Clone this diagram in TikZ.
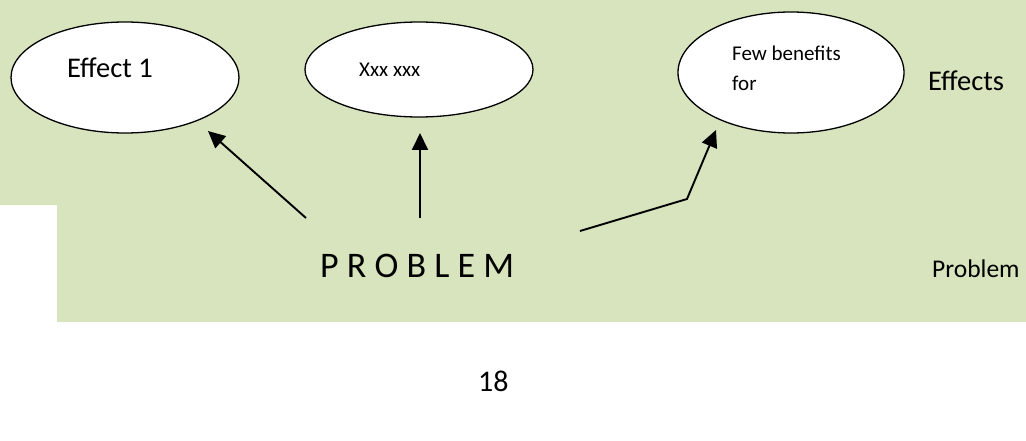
\documentclass[tikz,border=0pt]{standalone}
\usepackage{fontspec}
\setmainfont{Carlito}
\usetikzlibrary{shapes.geometric,arrows.meta}
\definecolor{panel}{HTML}{D7E4BD}
\begin{document}
\begin{tikzpicture}[x=1pt,y=-1pt,
  bubble/.style={ellipse,draw=black,line width=1.3pt,fill=white,inner sep=0pt},
  link/.style={line width=1.9pt,-{Triangle[length=17pt,width=16pt]}},
  lbl/.style={anchor=base west,inner sep=0pt,text=black}]
\useasboundingbox (0,0) rectangle (1026,441);
% green backdrop with the notch at the lower left
\fill[panel] (0,0) -- (1026,0) -- (1026,322) -- (57,322) -- (57,205) -- (0,205) -- cycle;

% effect bubbles
\node[bubble,minimum width=228pt,minimum height=111pt] (e1) at (125,77.5) {};
\node[bubble,minimum width=228pt,minimum height=95pt] (e2) at (419,69.5) {};
\node[bubble,minimum width=226pt,minimum height=121pt] (e3) at (791,72.5) {};

% texts
\node[lbl,font=\fontsize{28.5}{34}\selectfont] (t1) at (67,78) {Effect 1};
\node[lbl,font=\fontsize{21}{25}\selectfont] (t2) at (359,77) {Xxx xxx};
\node[lbl,font=\fontsize{21}{25}\selectfont] (t3a) at (732,61) {Few benefits};
\node[lbl,font=\fontsize{21}{25}\selectfont] (t3b) at (732,91) {for};
\node[lbl,font=\fontsize{28.5}{34}\selectfont] (effects) at (928,91) {Effects};
\node[lbl,font=\fontsize{36}{42}\selectfont] (problem) at (320,277) {P R O B L E M};
\node[lbl,font=\fontsize{25.5}{30}\selectfont] (problemlbl) at (932,277) {Problem};
\node[lbl,font=\fontsize{30}{36}\selectfont] (page) at (478,391) {18};

% connector ends
\coordinate (s1) at (306,218);
\coordinate (h1) at (208,131);
\coordinate (s2) at (420,218);
\coordinate (h2) at (420,133);
\coordinate (s3) at (580,231);
\coordinate (k3) at (687,199);
\coordinate (h3) at (716,130);

\draw[link] (s1) -- (h1);
\draw[link] (s2) -- (h2);
\draw[link] (s3) -- (k3) -- (h3);
\end{tikzpicture}
\end{document}
